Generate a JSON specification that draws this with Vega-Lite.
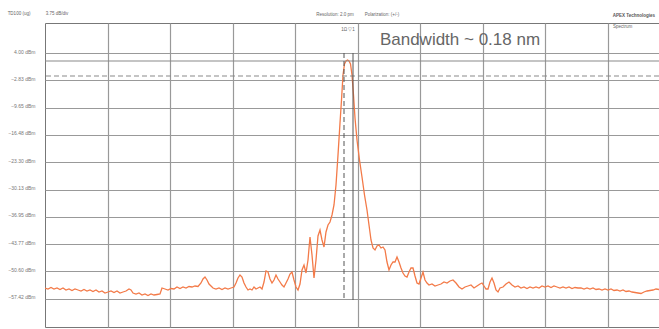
{
  "$schema": "https://vega.github.io/schema/vega-lite/v6.json",
  "width": 614,
  "height": 304,
  "autosize": "none",
  "padding": {"left": 45, "top": 23, "right": 0, "bottom": 2},
  "background": "white",
  "config": {
    "view": {"stroke": "#777", "strokeWidth": 1},
    "font": "Liberation Sans"
  },
  "datasets": {
    "trace": [
      {"nm":1544.00,"dBm":-54.75},{"nm":1544.06,"dBm":-55.0},{"nm":1544.12,"dBm":-54.625},{"nm":1544.18,"dBm":-55.0},
      {"nm":1544.24,"dBm":-54.75},{"nm":1544.30,"dBm":-55.125},{"nm":1544.36,"dBm":-54.75},{"nm":1544.42,"dBm":-55.25},
      {"nm":1544.48,"dBm":-55.0},{"nm":1544.54,"dBm":-55.375},{"nm":1544.60,"dBm":-55.0},{"nm":1544.66,"dBm":-55.25},
      {"nm":1544.72,"dBm":-55.5},{"nm":1544.78,"dBm":-55.125},{"nm":1544.84,"dBm":-55.5},{"nm":1544.90,"dBm":-55.25},
      {"nm":1544.96,"dBm":-55.625},{"nm":1545.02,"dBm":-55.25},{"nm":1545.08,"dBm":-55.75},{"nm":1545.14,"dBm":-55.5},
      {"nm":1545.20,"dBm":-56.0},{"nm":1545.26,"dBm":-55.75},{"nm":1545.32,"dBm":-55.5},{"nm":1545.38,"dBm":-55.875},
      {"nm":1545.44,"dBm":-55.5},{"nm":1545.50,"dBm":-56.0},{"nm":1545.56,"dBm":-55.75},{"nm":1545.62,"dBm":-55.5},
      {"nm":1545.68,"dBm":-55.0},{"nm":1545.72,"dBm":-55.25},{"nm":1545.76,"dBm":-56.0},{"nm":1545.82,"dBm":-56.25},
      {"nm":1545.88,"dBm":-56.0},{"nm":1545.94,"dBm":-56.5},{"nm":1546.00,"dBm":-56.25},{"nm":1546.06,"dBm":-56.625},
      {"nm":1546.12,"dBm":-56.25},{"nm":1546.18,"dBm":-56.5},{"nm":1546.24,"dBm":-56.375},{"nm":1546.30,"dBm":-56.25},
      {"nm":1546.34,"dBm":-54.75},{"nm":1546.40,"dBm":-55.0},{"nm":1546.46,"dBm":-55.25},{"nm":1546.52,"dBm":-54.875},
      {"nm":1546.58,"dBm":-55.0},{"nm":1546.64,"dBm":-54.5},{"nm":1546.70,"dBm":-54.875},{"nm":1546.76,"dBm":-54.5},
      {"nm":1546.82,"dBm":-54.75},{"nm":1546.88,"dBm":-54.375},{"nm":1546.94,"dBm":-54.5},{"nm":1547.00,"dBm":-54.25},
      {"nm":1547.06,"dBm":-54.375},{"nm":1547.12,"dBm":-53.5},{"nm":1547.16,"dBm":-52.5},{"nm":1547.20,"dBm":-52.0},
      {"nm":1547.24,"dBm":-52.75},{"nm":1547.28,"dBm":-53.75},{"nm":1547.32,"dBm":-54.25},{"nm":1547.36,"dBm":-54.75},
      {"nm":1547.42,"dBm":-55.0},{"nm":1547.48,"dBm":-54.75},{"nm":1547.54,"dBm":-55.125},{"nm":1547.60,"dBm":-54.75},
      {"nm":1547.66,"dBm":-55.0},{"nm":1547.72,"dBm":-54.75},{"nm":1547.78,"dBm":-54.5},{"nm":1547.82,"dBm":-53.5},
      {"nm":1547.86,"dBm":-52.25},{"nm":1547.90,"dBm":-51.5},{"nm":1547.94,"dBm":-52.0},{"nm":1547.98,"dBm":-53.5},
      {"nm":1548.02,"dBm":-54.5},{"nm":1548.06,"dBm":-55.25},{"nm":1548.10,"dBm":-55.0},{"nm":1548.14,"dBm":-55.25},
      {"nm":1548.18,"dBm":-54.5},{"nm":1548.22,"dBm":-55.0},{"nm":1548.26,"dBm":-54.75},{"nm":1548.30,"dBm":-54.5},
      {"nm":1548.34,"dBm":-55.0},{"nm":1548.38,"dBm":-53.25},{"nm":1548.42,"dBm":-50.5},{"nm":1548.46,"dBm":-50.75},
      {"nm":1548.50,"dBm":-52.5},{"nm":1548.54,"dBm":-53.5},{"nm":1548.58,"dBm":-52.75},{"nm":1548.62,"dBm":-51.5},
      {"nm":1548.66,"dBm":-52.5},{"nm":1548.70,"dBm":-53.25},{"nm":1548.74,"dBm":-54.0},{"nm":1548.78,"dBm":-54.5},
      {"nm":1548.82,"dBm":-53.5},{"nm":1548.86,"dBm":-52.5},{"nm":1548.90,"dBm":-51.25},{"nm":1548.94,"dBm":-50.75},
      {"nm":1548.98,"dBm":-52.75},{"nm":1549.02,"dBm":-54.5},{"nm":1549.06,"dBm":-55.25},{"nm":1549.10,"dBm":-53.75},
      {"nm":1549.14,"dBm":-50.25},{"nm":1549.18,"dBm":-49.0},{"nm":1549.22,"dBm":-51.0},{"nm":1549.26,"dBm":-47.75},
      {"nm":1549.30,"dBm":-42.0},{"nm":1549.34,"dBm":-46.5},{"nm":1549.38,"dBm":-52.25},{"nm":1549.42,"dBm":-47.75},
      {"nm":1549.46,"dBm":-41.75},{"nm":1549.50,"dBm":-40.25},{"nm":1549.54,"dBm":-42.75},{"nm":1549.58,"dBm":-44.5},
      {"nm":1549.62,"dBm":-40.75},{"nm":1549.66,"dBm":-39.0},{"nm":1549.70,"dBm":-38.25},{"nm":1549.74,"dBm":-36.5},
      {"nm":1549.78,"dBm":-34.0},{"nm":1549.82,"dBm":-29.0},{"nm":1549.86,"dBm":-21.5},{"nm":1549.90,"dBm":-13.5},
      {"nm":1549.93,"dBm":-7.75},{"nm":1549.96,"dBm":-1.5},{"nm":1549.99,"dBm":1.25},{"nm":1550.02,"dBm":2.0},
      {"nm":1550.05,"dBm":2.25},{"nm":1550.08,"dBm":2.0},{"nm":1550.11,"dBm":1.25},{"nm":1550.14,"dBm":-1.5},
      {"nm":1550.17,"dBm":-6.5},{"nm":1550.20,"dBm":-12.25},{"nm":1550.24,"dBm":-17.75},{"nm":1550.29,"dBm":-22.75},
      {"nm":1550.34,"dBm":-27.0},{"nm":1550.39,"dBm":-31.5},{"nm":1550.44,"dBm":-35.25},{"nm":1550.48,"dBm":-39.0},
      {"nm":1550.52,"dBm":-42.75},{"nm":1550.56,"dBm":-44.75},{"nm":1550.60,"dBm":-45.25},{"nm":1550.64,"dBm":-44.25},
      {"nm":1550.68,"dBm":-44.0},{"nm":1550.72,"dBm":-44.75},{"nm":1550.76,"dBm":-44.5},{"nm":1550.80,"dBm":-45.25},
      {"nm":1550.84,"dBm":-48.25},{"nm":1550.88,"dBm":-50.25},{"nm":1550.92,"dBm":-49.0},{"nm":1550.96,"dBm":-48.25},
      {"nm":1551.00,"dBm":-48.25},{"nm":1551.04,"dBm":-47.0},{"nm":1551.08,"dBm":-48.25},{"nm":1551.12,"dBm":-49.75},
      {"nm":1551.16,"dBm":-51.0},{"nm":1551.20,"dBm":-51.75},{"nm":1551.24,"dBm":-52.0},{"nm":1551.28,"dBm":-50.75},
      {"nm":1551.32,"dBm":-49.75},{"nm":1551.36,"dBm":-49.75},{"nm":1551.40,"dBm":-51.75},{"nm":1551.44,"dBm":-53.5},
      {"nm":1551.48,"dBm":-53.75},{"nm":1551.52,"dBm":-52.25},{"nm":1551.56,"dBm":-50.75},{"nm":1551.60,"dBm":-52.75},
      {"nm":1551.64,"dBm":-53.5},{"nm":1551.68,"dBm":-54.0},{"nm":1551.74,"dBm":-53.75},{"nm":1551.80,"dBm":-54.25},
      {"nm":1551.86,"dBm":-54.0},{"nm":1551.92,"dBm":-53.75},{"nm":1551.98,"dBm":-53.25},{"nm":1552.04,"dBm":-53.5},
      {"nm":1552.10,"dBm":-53.0},{"nm":1552.16,"dBm":-52.75},{"nm":1552.22,"dBm":-53.5},{"nm":1552.28,"dBm":-54.5},
      {"nm":1552.34,"dBm":-55.0},{"nm":1552.40,"dBm":-54.5},{"nm":1552.46,"dBm":-54.25},{"nm":1552.52,"dBm":-54.0},
      {"nm":1552.58,"dBm":-54.75},{"nm":1552.64,"dBm":-54.25},{"nm":1552.70,"dBm":-53.75},{"nm":1552.74,"dBm":-53.5},
      {"nm":1552.78,"dBm":-54.25},{"nm":1552.82,"dBm":-55.0},{"nm":1552.86,"dBm":-55.0},{"nm":1552.90,"dBm":-53.25},
      {"nm":1552.94,"dBm":-52.25},{"nm":1552.98,"dBm":-53.5},{"nm":1553.02,"dBm":-55.25},{"nm":1553.06,"dBm":-55.75},
      {"nm":1553.10,"dBm":-54.75},{"nm":1553.16,"dBm":-54.5},{"nm":1553.22,"dBm":-53.75},{"nm":1553.28,"dBm":-53.25},
      {"nm":1553.34,"dBm":-54.0},{"nm":1553.40,"dBm":-54.5},{"nm":1553.46,"dBm":-54.25},{"nm":1553.52,"dBm":-54.75},
      {"nm":1553.58,"dBm":-54.5},{"nm":1553.64,"dBm":-54.875},{"nm":1553.70,"dBm":-54.5},{"nm":1553.76,"dBm":-54.75},
      {"nm":1553.82,"dBm":-54.5},{"nm":1553.88,"dBm":-54.75},{"nm":1553.94,"dBm":-54.25},{"nm":1554.00,"dBm":-54.5},
      {"nm":1554.06,"dBm":-54.25},{"nm":1554.12,"dBm":-54.625},{"nm":1554.18,"dBm":-54.25},{"nm":1554.24,"dBm":-54.5},
      {"nm":1554.30,"dBm":-54.75},{"nm":1554.36,"dBm":-54.5},{"nm":1554.42,"dBm":-54.75},{"nm":1554.48,"dBm":-54.5},
      {"nm":1554.54,"dBm":-54.875},{"nm":1554.60,"dBm":-54.625},{"nm":1554.66,"dBm":-54.75},{"nm":1554.72,"dBm":-54.75},
      {"nm":1554.78,"dBm":-55.0},{"nm":1554.84,"dBm":-54.75},{"nm":1554.90,"dBm":-55.0},{"nm":1554.96,"dBm":-54.75},
      {"nm":1555.02,"dBm":-55.125},{"nm":1555.08,"dBm":-55.0},{"nm":1555.14,"dBm":-55.25},{"nm":1555.20,"dBm":-55.0},
      {"nm":1555.26,"dBm":-55.25},{"nm":1555.32,"dBm":-55.0},{"nm":1555.38,"dBm":-55.375},{"nm":1555.44,"dBm":-55.25},
      {"nm":1555.50,"dBm":-55.5},{"nm":1555.56,"dBm":-55.25},{"nm":1555.62,"dBm":-55.625},{"nm":1555.68,"dBm":-55.5},
      {"nm":1555.74,"dBm":-55.75},{"nm":1555.80,"dBm":-55.875},{"nm":1555.86,"dBm":-56.0},{"nm":1555.92,"dBm":-56.125},
      {"nm":1555.98,"dBm":-55.75},{"nm":1556.04,"dBm":-55.5},{"nm":1556.10,"dBm":-55.375},{"nm":1556.16,"dBm":-55.25},
      {"nm":1556.22,"dBm":-55.0},{"nm":1556.28,"dBm":-55.125}
    ],
    "hlines": [
      {"dBm": 2.0, "style": "solid"},
      {"dBm": -1.75, "style": "dashed"}
    ],
    "markers": [
      {"nm": 1549.98, "top": 4.0, "bottom": -57.75, "style": "dashed"},
      {"nm": 1550.16, "top": 4.0, "bottom": -57.75, "style": "solid"}
    ],
    "labels": [
      {"nm": 1552.30, "dBm": 7.25, "text": "Bandwidth ~ 0.18 nm"}
    ],
    "smallCenter": [
      {"nm": 1543.48, "dBm": 13.75, "text": "TD100 (ug)"},
      {"nm": 1544.24, "dBm": 13.75, "text": "3.75 dB/div"},
      {"nm": 1549.80, "dBm": 13.5, "text": "Resolution: 2.0 pm"},
      {"nm": 1550.74, "dBm": 13.5, "text": "Polarization: (+/-)"},
      {"nm": 1550.06, "dBm": 9.75, "text": "1Ω ▽1"}
    ],
    "smallRight": [
      {"nm": 1556.20, "dBm": 13.25, "text": "APEX Technologies"}
    ],
    "smallLeft": [
      {"nm": 1555.36, "dBm": 10.5, "text": "Spectrum"}
    ]
  },
  "layer": [
    {
      "data": {"name": "trace"},
      "mark": {"type": "line", "color": "#f37a48", "strokeWidth": 1.3, "clip": true},
      "encoding": {
        "x": {
          "field": "nm", "type": "quantitative",
          "scale": {"domain": [1544.0, 1556.28], "nice": false, "zero": false},
          "axis": {
            "title": null, "labels": false, "ticks": false, "domain": false,
            "grid": true, "gridColor": "#999", "gridWidth": 1.2, "tickCount": 30,
            "values": [1545.25, 1546.5, 1547.75, 1549.0, 1550.25, 1551.5, 1552.75, 1554.0, 1555.25]
          }
        },
        "y": {
          "field": "dBm", "type": "quantitative",
          "scale": {"domain": [-64.5, 11.5], "nice": false, "zero": false},
          "axis": {
            "title": null, "ticks": false, "domain": false,
            "grid": true, "gridColor": "#999", "gridWidth": 1.2, "tickCount": 30,
            "values": [4, -2.825, -9.65, -16.475, -23.3, -30.125, -36.95, -43.775, -50.6, -57.425],
            "labelExpr": "format(datum.value, '.2f') + ' dBm'",
            "labelOverlap": false, "labelBound": false,
            "labelFontSize": 5, "labelColor": "#777", "labelPadding": 10, "labelOffset": -2
          }
        }
      }
    },
    {
      "data": {"name": "hlines"},
      "mark": {"type": "rule", "color": "#8a8a8a", "strokeWidth": 1.2},
      "encoding": {
        "y": {"field": "dBm", "type": "quantitative"},
        "strokeDash": {
          "field": "style", "type": "nominal",
          "scale": {"domain": ["solid", "dashed"], "range": [[1, 0], [5, 3]]},
          "legend": null
        }
      }
    },
    {
      "data": {"name": "markers"},
      "mark": {"type": "rule", "color": "#555", "strokeWidth": 1},
      "encoding": {
        "x": {"field": "nm", "type": "quantitative"},
        "y": {"field": "top", "type": "quantitative"},
        "y2": {"field": "bottom"},
        "strokeDash": {
          "field": "style", "type": "nominal",
          "scale": {"domain": ["solid", "dashed"], "range": [[1, 0], [5, 3]]},
          "legend": null
        }
      }
    },
    {
      "data": {"name": "labels"},
      "mark": {"type": "text", "fontSize": 17, "color": "#666", "align": "center", "baseline": "middle"},
      "encoding": {
        "x": {"field": "nm", "type": "quantitative"},
        "y": {"field": "dBm", "type": "quantitative"},
        "text": {"field": "text"}
      }
    },
    {
      "data": {"name": "smallCenter"},
      "mark": {"type": "text", "fontSize": 4.5, "color": "#666", "baseline": "middle", "align": "center", "clip": false},
      "encoding": {
        "x": {"field": "nm", "type": "quantitative"},
        "y": {"field": "dBm", "type": "quantitative"},
        "text": {"field": "text"}
      }
    },
    {
      "data": {"name": "smallRight"},
      "mark": {"type": "text", "fontSize": 4.5, "color": "#555", "fontWeight": "bold", "baseline": "middle", "align": "right", "clip": false},
      "encoding": {
        "x": {"field": "nm", "type": "quantitative"},
        "y": {"field": "dBm", "type": "quantitative"},
        "text": {"field": "text"}
      }
    },
    {
      "data": {"name": "smallLeft"},
      "mark": {"type": "text", "fontSize": 4.5, "color": "#666", "baseline": "middle", "align": "left", "clip": false},
      "encoding": {
        "x": {"field": "nm", "type": "quantitative"},
        "y": {"field": "dBm", "type": "quantitative"},
        "text": {"field": "text"}
      }
    }
  ]
}
